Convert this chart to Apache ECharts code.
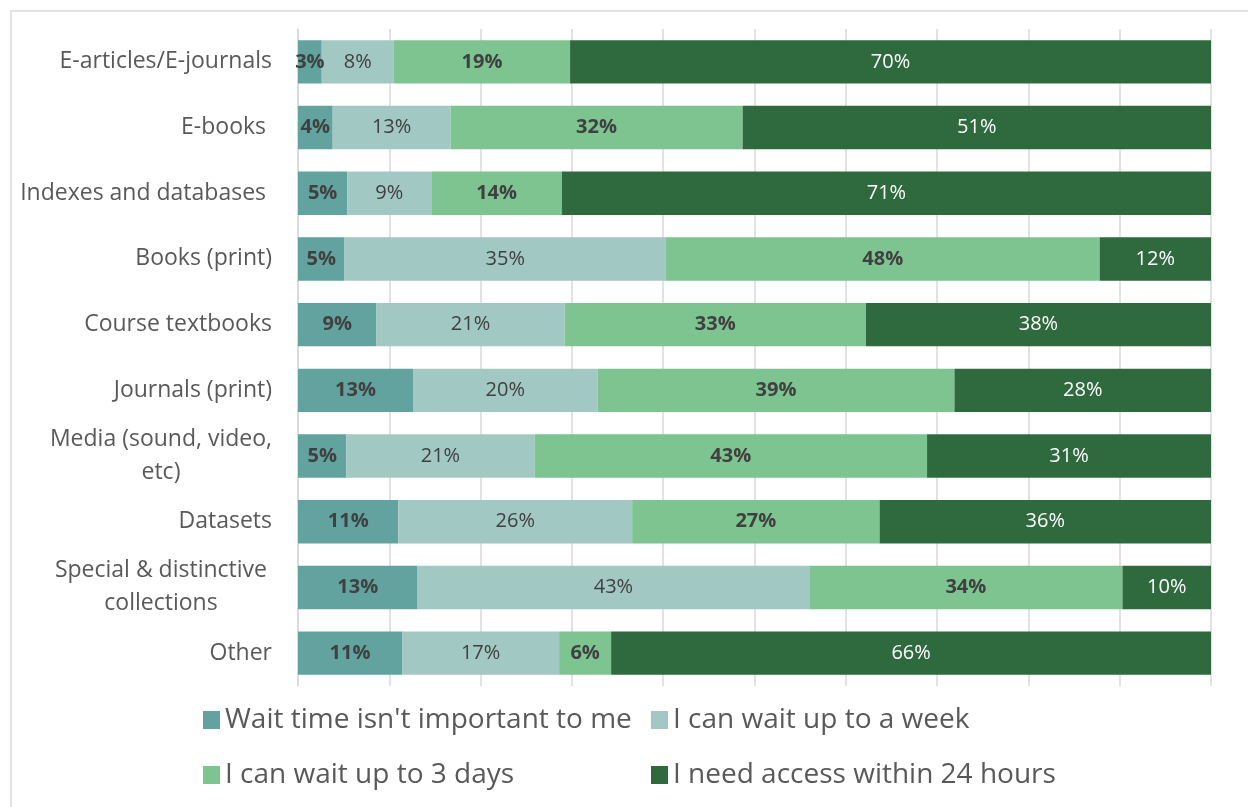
<!DOCTYPE html>
<html>
<head>
<meta charset="utf-8">
<script src="https://cdn.jsdelivr.net/npm/echarts@6/dist/echarts.min.js"></script>
<style>
html,body{margin:0;padding:0;background:#fff;}
#chart{width:1248px;height:807px;}
</style>
</head>
<body>
<div id="chart"></div>
<script>
// Categories (top to bottom as displayed)
const categories = [
  "E-articles/E-journals",
  "E-books ",
  "Indexes and databases ",
  "Books (print)",
  "Course textbooks",
  "Journals (print)",
  "Media (sound, video,\netc)",
  "Datasets",
  "Special & distinctive\ncollections",
  "Other"
];
const seriesNames = [
  "Wait time isn't important to me",
  "I can wait up to a week",
  "I can wait up to 3 days",
  "I need access within 24 hours"
];
// Percent values per series, in category order
const waitNotImportant = [2.6, 3.8, 5.4, 5.1, 8.6, 12.6, 5.3, 11.0, 13.1, 11.4];
const waitWeek        = [7.9, 12.9, 9.2, 35.2, 20.6, 20.2, 20.6, 25.6, 42.9, 17.2];
const wait3Days       = [19.3, 32.0, 14.3, 47.5, 33.0, 39.1, 43.0, 27.1, 34.3, 5.7];
const need24h         = [70.2, 51.3, 71.1, 12.2, 37.8, 28.3, 31.1, 36.3, 9.7, 65.7];

const colors = ["#62A39F", "#A2C8C4", "#7DC491", "#2E6A3E"];
const FONT = "Open Sans";
const CAT_SIZE = 23;

// measure text width to center multi-line category labels like the original
const ctx = document.createElement("canvas").getContext("2d");
ctx.font = CAT_SIZE + "px '" + FONT + "'";
function labelFormatter(v) {
  if (v.indexOf("\n") < 0) return v;
  return v.split("\n").map(l => "{c|" + l + "}").join("\n");
}
const multiWidths = categories.filter(c => c.indexOf("\n") >= 0)
  .map(c => Math.max(...c.split("\n").map(l => ctx.measureText(l).width)));

const chart = echarts.init(document.getElementById("chart"));

function mkSeries(i, data, labelColor, bold) {
  return {
    name: seriesNames[i],
    type: "bar",
    stack: "total",
    data: data,
    barCategoryGap: "34%",
    itemStyle: { color: colors[i] },
    label: {
      show: true,
      position: "inside",
      formatter: p => Math.round(p.value) + "%",
      fontFamily: FONT,
      fontSize: 20,
      fontWeight: bold ? "bold" : "normal",
      color: labelColor
    },
    emphasis: { disabled: true }
  };
}

function mkLegend(name, left, top) {
  return {
    data: [name],
    left: left,
    top: top,
    icon: "rect",
    itemWidth: 17,
    itemHeight: 18,
    itemGap: 0,
    selectedMode: false,
    textStyle: { fontFamily: FONT, fontSize: 28, color: "#595959", padding: [0, 0, 0, 0] }
  };
}

chart.setOption({
  animation: false,
  backgroundColor: "#fff",
  graphic: [{
    type: "rect",
    shape: { x: 11, y: 11, width: 1260, height: 820 },
    style: { fill: "none", stroke: "#D9D9D9", lineWidth: 1.5 },
    silent: true
  }],
  grid: { left: 298, right: 37, top: 29, bottom: 121, containLabel: false },
  xAxis: {
    type: "value",
    min: 0,
    max: 100,
    interval: 10,
    axisLabel: { show: false },
    axisLine: { show: false },
    axisTick: { show: false },
    splitLine: { show: true, lineStyle: { color: "#D9D9D9", width: 1.5 } }
  },
  yAxis: {
    type: "category",
    inverse: true,
    data: categories,
    axisLine: { show: true, lineStyle: { color: "#D9D9D9", width: 1.5 } },
    axisTick: { show: false },
    axisLabel: {
      fontFamily: FONT,
      fontSize: CAT_SIZE,
      color: "#595959",
      margin: 26,
      lineHeight: 33,
      formatter: labelFormatter,
      rich: {
        c: {
          fontFamily: FONT,
          fontSize: CAT_SIZE,
          color: "#595959",
          lineHeight: 33,
          align: "center",
          width: Math.max(...multiWidths)
        }
      }
    }
  },
  legend: [
    mkLegend(seriesNames[0], 198, 701),
    mkLegend(seriesNames[1], 646, 701),
    mkLegend(seriesNames[2], 198, 756),
    mkLegend(seriesNames[3], 646, 756)
  ],
  series: [
    mkSeries(0, waitNotImportant, "#404040", true),
    mkSeries(1, waitWeek, "#404040", false),
    mkSeries(2, wait3Days, "#404040", true),
    mkSeries(3, need24h, "#FFFFFF", false)
  ]
});
</script>
</body>
</html>
